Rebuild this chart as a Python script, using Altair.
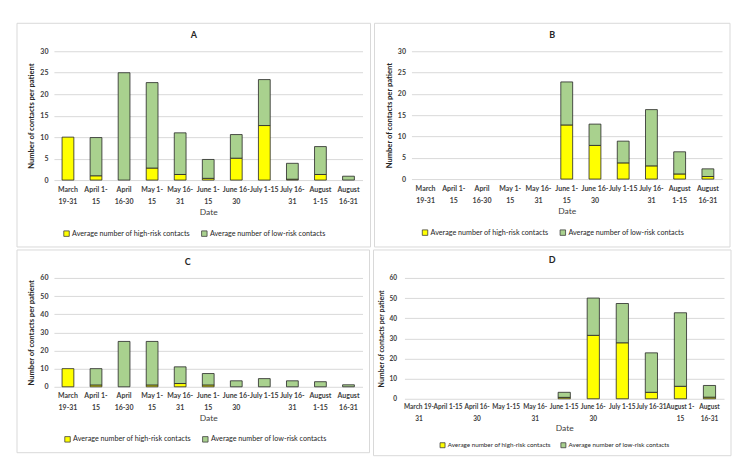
import altair as alt
import pandas as pd

SERIES = ["Average number of high-risk contacts", "Average number of low-risk contacts"]
COLORS = ["#FFFF00", "#A9D18E"]

# tick labels ("|" marks a line break)
LABELS_ABC = ["March|19-31", "April 1-|15", "April|16-30", "May 1-|15", "May 16-|31",
              "June 1-|15", "June 16-|30", "July 1-15", "July 16-|31", "August|1-15", "August|16-31"]
LABELS_D = ["March 19-|31", "April 1-15", "April 16-|30", "May 1-15", "May 16-|31",
            "June 1-15", "June 16-|30", "July 1-15", "July 16-31", "August 1-|15", "August|16-31"]

# Panel A
A_HIGH = [10, 1.0, 0, 2.8, 1.3, 0.4, 5.1, 12.7, 0.2, 1.3, 0]
A_LOW = [0, 8.9, 25, 19.9, 9.7, 4.4, 5.5, 10.7, 3.7, 6.5, 0.9]
# Panel B
B_HIGH = [0, 0, 0, 0, 0, 12.7, 7.9, 3.8, 3.1, 1.2, 0.6]
B_LOW = [0, 0, 0, 0, 0, 10.1, 5.0, 5.1, 13.2, 5.2, 1.8]
# Panel C
C_HIGH = [10, 1.0, 0, 1.0, 1.8, 1.0, 0, 0, 0, 0, 0]
C_LOW = [0, 9.0, 25, 24.0, 9.2, 6.3, 3.3, 4.5, 3.3, 2.8, 1.1]
# Panel D
D_HIGH = [0, 0, 0, 0, 0, 0.7, 31.5, 27.8, 3.2, 6.2, 0.8]
D_LOW = [0, 0, 0, 0, 0, 2.5, 18.5, 19.5, 19.6, 36.5, 5.8]

FONT = "Lato"


def panel(name, labels, high, low, ymax, ystep, g):
    rows = []
    for lab, h, l in zip(labels, high, low):
        if h:
            rows.append({"cat": lab, "series": SERIES[0], "value": h, "ord": 0})
        if l:
            rows.append({"cat": lab, "series": SERIES[1], "value": l, "ord": 1})
    df = pd.DataFrame(rows)
    bars = alt.Chart(df).mark_bar(stroke="#262626", strokeWidth=0.8).encode(
        x=alt.X("cat:N", sort=labels,
                scale=alt.Scale(domain=labels, paddingInner=0.58, paddingOuter=0.29),
                axis=alt.Axis(title="Date", labelExpr="split(datum.label, '|')", labelAngle=0,
                              labelFont=FONT, labelFontWeight="bold", labelFontSize=g["lfs"],
                              labelColor="#404040", labelLineHeight=g["lfs"] + 5,
                              labelPadding=g["xlp"], ticks=False, domain=False, grid=False,
                              labelBaseline="top",
                              titleFont=FONT, titleFontSize=8.5, titleFontWeight="normal",
                              titleColor="#404040", titlePadding=g["xtp"])),
        y=alt.Y("value:Q", stack="zero", scale=alt.Scale(domain=[0, ymax]),
                axis=alt.Axis(title="Number of contacts per patient",
                              values=list(range(0, ymax + 1, ystep)),
                              labelFont=FONT, labelFontWeight="bold", labelFontSize=g["lfs"],
                              labelColor="#404040", labelPadding=g["ylp"], ticks=False,
                              domain=False, gridColor="#d9d9d9", gridWidth=1,
                              titleFont=FONT, titleFontSize=g["yts"], titleFontWeight="bold",
                              titleColor="#262626", titlePadding=g["ytp"])),
        color=alt.Color("series:N", scale=alt.Scale(domain=SERIES, range=COLORS),
                        legend=alt.Legend(title=None, orient="none", legendX=g["lx"],
                                          legendY=g["ly"], direction="horizontal",
                                          symbolType="square", symbolSize=g["ss"],
                                          symbolStrokeColor="#404040", symbolStrokeWidth=0.8,
                                          labelFont=FONT, labelFontSize=g["lgfs"],
                                          labelColor="#262626", labelOffset=2,
                                          columnPadding=g["cp"])),
        order=alt.Order("ord:Q"),
    )
    one = pd.DataFrame({"f": [0]})
    frame = alt.Chart(one).mark_rect(
        fillOpacity=0, stroke="#d9d9d9", strokeWidth=1
    ).encode(x=alt.value(g["fx"][0]), x2=alt.value(g["fx"][1]),
             y=alt.value(g["fy"][0]), y2=alt.value(g["fy"][1]))
    title = alt.Chart(one).mark_text(
        font=FONT, fontSize=9, fontWeight="bold", color="#262626", baseline="middle"
    ).encode(x=alt.value(g["tx"]), y=alt.value(g["ty"]), text=alt.value(name))
    return alt.layer(frame, bars, title).properties(width=g["w"], height=g["h"])


GA = dict(w=309, h=129, fx=(-37, 317), fy=(-28, 196), lx=9, ly=179, cp=10, ss=30,
          lfs=7, lgfs=7.2, yts=7.6, ytp=4, ylp=6, xlp=5, xtp=3, tx=140, ty=-16)
GB = dict(w=311, h=128, fx=(-37, 319), fy=(-28, 196), lx=10, ly=178, cp=10, ss=30,
          lfs=7, lgfs=7.2, yts=7.6, ytp=4, ylp=6, xlp=5, xtp=3, tx=141, ty=-16)
GC = dict(w=309, h=109, fx=(-37, 316), fy=(-28, 175), lx=10, ly=158, cp=10, ss=30,
          lfs=7, lgfs=7.2, yts=7.6, ytp=4, ylp=6, xlp=5, xtp=3, tx=134, ty=-16)
GD = dict(w=320, h=121, fx=(-31, 327), fy=(-28, 178), lx=35, ly=164, cp=8, ss=25,
          lfs=6.5, lgfs=6.3, yts=7, ytp=4, ylp=8, xlp=5, xtp=2, tx=148, ty=-18)

pa = panel("A", LABELS_ABC, A_HIGH, A_LOW, 30, 5, GA)
pb = panel("B", LABELS_ABC, B_HIGH, B_LOW, 30, 5, GB)
pc = panel("C", LABELS_ABC, C_HIGH, C_LOW, 60, 10, GC)
pd_ = panel("D", LABELS_D, D_HIGH, D_LOW, 60, 10, GD)

row1 = alt.hconcat(pa, pb, spacing=2).resolve_scale(color="independent").resolve_legend(color="independent")
row2 = alt.hconcat(pc, pd_, spacing=2).resolve_scale(color="independent").resolve_legend(color="independent")

chart = alt.vconcat(row1, row2, spacing=1).resolve_scale(
    color="independent").resolve_legend(color="independent").properties(
    padding={"left": 8, "top": 14, "right": 0, "bottom": 0},
    background="white",
).configure_view(strokeWidth=0)

chart.save("out.html", embed_options={"renderer": "svg", "actions": False})
